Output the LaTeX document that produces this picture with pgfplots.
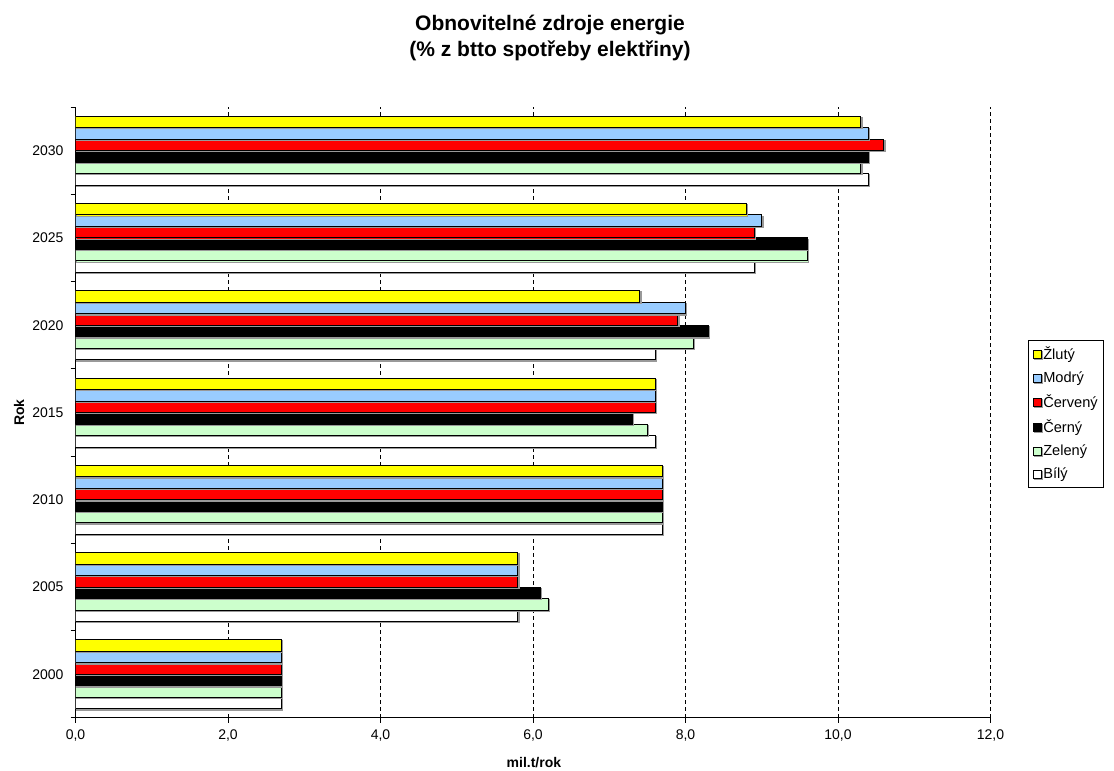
\documentclass[border=0pt]{standalone}
\usepackage{pgfplots}
\pgfplotsset{compat=1.18}
\usepackage{pgfplotstable}
\usepackage{fontspec}
\setmainfont{Liberation Sans}
\definecolor{cyel}{RGB}{255,255,0}
\definecolor{cblu}{RGB}{153,204,255}
\definecolor{cred}{RGB}{255,0,0}
\definecolor{cblk}{RGB}{0,0,0}
\definecolor{cgrn}{RGB}{204,255,204}
\definecolor{cwht}{RGB}{255,255,255}
\pgfplotstableread{
idx Zl Mo Cv Ce Ze Bi
0 2.7 2.7 2.7 2.7 2.7 2.7
1 5.8 5.8 5.8 6.1 6.2 5.8
2 7.7 7.7 7.7 7.7 7.7 7.7
3 7.6 7.6 7.6 7.3 7.5 7.6
4 7.4 8.0 7.9 8.3 8.1 7.6
5 8.8 9.0 8.9 9.6 9.6 8.9
6 10.3 10.4 10.6 10.4 10.3 10.4
}\data
\pgfplotsset{
  mybar/.style={fill=#1, draw=black, line width=0.5pt,
    preaction={draw=gray!80, line width=0.6pt, transform canvas={shift={(0.6pt,-0.6pt)}}},
    legend image code/.code={\draw[fill=#1,draw=black,line width=0.4pt] (0pt,-2pt) rectangle (4pt,2pt);}},
}
\begin{document}
\begin{tikzpicture}
\path[use as bounding box] (0pt,0pt) rectangle (557pt,385.5pt);
\node[font=\bfseries\fontsize{10.5}{13}\selectfont, align=center, anchor=base] at (275pt,357pt) {Obnovitelné zdroje energie\\(\% z btto spotřeby elektřiny)};
\begin{axis}[
  at={(37.75pt,26.5pt)}, anchor=south west,
  scale only axis, width=457.5pt, height=305.5pt,
  xbar=0pt, bar width=5.75pt,
  xmin=0, xmax=12, ymin=-0.5, ymax=6.5,
  axis lines=left, axis line style={-, line width=0.5pt},
  tick align=outside, major tick length=2.5pt,
  tick style={line width=0.5pt, black},
  xtick={0,2,...,12},
  xticklabel={\pgfmathprintnumber[fixed,fixed zerofill,precision=1,use comma]{\tick}},
  /pgf/number format/assume math mode=true,
  ytick={-0.5,0.5,...,6.5},
  yticklabels={2000,2005,2010,2015,2020,2025,2030},
  y tick label as interval,
  ticklabel style={font=\fontsize{7}{8}\selectfont},
  xmajorgrids, grid style={black, line width=0.5pt, dash pattern=on 2pt off 1.5pt},
  xlabel={mil.t/rok},
  ylabel={Rok},
  label style={font=\bfseries\fontsize{7}{8}\selectfont},
  xlabel style={at={(axis description cs:0.501,-0.0736)}, anchor=center},
  ylabel style={at={(axis description cs:-0.0617,0.5)}, anchor=center},
  reverse legend,
  legend cell align=left,
  legend style={at={(1.041,0.6187)}, anchor=north west, draw=black, line width=0.5pt,
    font=\fontsize{7.3}{8.5}\selectfont, row sep=2.6pt, inner sep=2pt,
    nodes={inner sep=1pt}},
]
\addplot[mybar=cwht] table[x=Bi,y=idx] {\data};
\addplot[mybar=cgrn] table[x=Ze,y=idx] {\data};
\addplot[mybar=cblk] table[x=Ce,y=idx] {\data};
\addplot[mybar=cred] table[x=Cv,y=idx] {\data};
\addplot[mybar=cblu] table[x=Mo,y=idx] {\data};
\addplot[mybar=cyel] table[x=Zl,y=idx] {\data};
\legend{Bílý,Zelený,Černý,Červený,Modrý,Žlutý}
\end{axis}
\end{tikzpicture}
\end{document}
